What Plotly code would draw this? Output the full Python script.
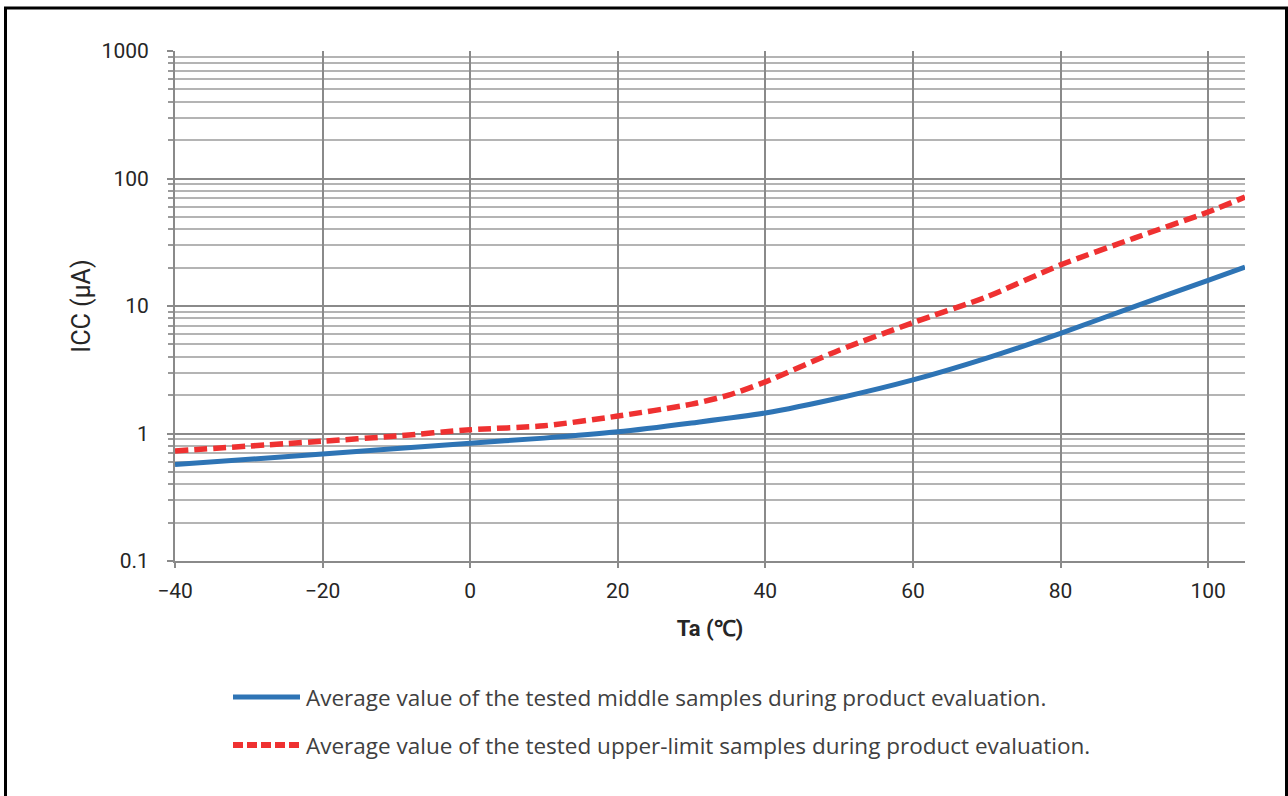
import plotly.graph_objects as go

# Ambient temperature (°C) and supply current ICC (µA)
ta_mid = [-40, -20, 0, 10, 20, 30, 40, 50, 60, 70, 80, 90, 100, 105]
icc_mid = [0.57, 0.69, 0.84, 0.92, 1.03, 1.21, 1.45, 1.90, 2.63, 3.9, 6.1, 9.9, 15.9, 20.2]

ta_up = [-40, -20, -10, 0, 10, 20, 30, 35, 40, 50, 60, 70, 80, 90, 100, 105]
icc_up = [0.73, 0.87, 0.955, 1.07, 1.15, 1.37, 1.70, 2.0, 2.54, 4.5, 7.4, 11.8, 21.0, 34.1, 54.6, 71.6]

legend_labels = [
    "Average value of the tested middle samples during product evaluation.",
    "Average value of the tested upper-limit samples during product evaluation.",
]

x_ticks = [-40, -20, 0, 20, 40, 60, 80, 100]
x_ticktext = ["\u221240", "\u221220", "0", "20", "40", "60", "80", "100"]
y_ticks = [0.1, 1, 10, 100, 1000]
y_ticktext = ["0.1", "1", "10", "100", "1000"]

BLUE = "#2e74b5"
RED = "#ef3131"
TEXT = "#262626"
W, H = 1288, 796
L, R, T, B = 175, 43, 51, 235

minor_vals = [m * 10 ** e for e in range(-1, 3) for m in range(2, 10)]

fig = go.Figure()
fig.add_trace(go.Scatter(x=ta_mid, y=icc_mid, mode="lines",
                         line=dict(color=BLUE, width=5, shape="spline", smoothing=0.7),
                         showlegend=False, name=legend_labels[0]))
fig.add_trace(go.Scatter(x=ta_up, y=icc_up, mode="lines",
                         line=dict(color=RED, width=5.5, dash="13px,6px", shape="spline", smoothing=0.7),
                         showlegend=False, name=legend_labels[1]))


def px(xp):
    return (xp - L) / (W - L - R)


def py(yp):
    return (H - B - yp) / (H - T - B)


shapes = [
    # outer frame
    dict(type="rect", xref="paper", yref="paper", x0=px(5.5), x1=px(1286.5), y0=py(820), y1=py(8),
         line=dict(color="black", width=3), layer="above"),
    # legend samples
    dict(type="line", xref="paper", yref="paper", x0=px(233), x1=px(300), y0=py(697), y1=py(697),
         line=dict(color=BLUE, width=5)),
    dict(type="line", xref="paper", yref="paper", x0=px(233), x1=px(300), y0=py(745), y1=py(745),
         line=dict(color=RED, width=6, dash="10px,4px")),
]

legend_font = dict(family="Open Sans", size=22.5, color="#404040")
annotations = [
    dict(xref="paper", yref="paper", x=px(304), y=py(697), text=legend_labels[0], showarrow=False,
         xanchor="left", yanchor="middle", font=legend_font),
    dict(xref="paper", yref="paper", x=px(304), y=py(745), text=legend_labels[1], showarrow=False,
         xanchor="left", yanchor="middle", font=legend_font),
]

fig.update_layout(
    width=W, height=H,
    margin=dict(l=L, r=R, t=T, b=B),
    paper_bgcolor="white", plot_bgcolor="white",
    shapes=shapes, annotations=annotations,
    font=dict(family="Roboto", color=TEXT),
    xaxis=dict(
        range=[-40, 105], tickvals=x_ticks, ticktext=x_ticktext,
        showgrid=True, gridcolor="#8a8a8a", gridwidth=2,
        showline=True, linecolor="#8a8a8a", linewidth=2,
        ticks="outside", ticklen=5, tickcolor="#8a8a8a", tickwidth=2,
        tickfont=dict(size=21, color=TEXT), ticklabelstandoff=5, zeroline=False,
        title=dict(text="<b>Ta (\u2103)</b>", font=dict(size=22, color=TEXT), standoff=18),
    ),
    yaxis=dict(
        type="log", range=[-1, 3], tickvals=y_ticks, ticktext=y_ticktext,
        showgrid=True, gridcolor="#8a8a8a", gridwidth=2,
        showline=True, linecolor="#8a8a8a", linewidth=2,
        ticks="outside", ticklen=6, tickcolor="#8a8a8a", tickwidth=2,
        tickfont=dict(size=21, color=TEXT), ticklabelstandoff=14,
        minor=dict(tickvals=minor_vals, showgrid=True, gridcolor="#b4b4b4", gridwidth=2,
                   ticks="outside", ticklen=5, tickcolor="#9a9a9a", tickwidth=2),
        title=dict(text="ICC (\u03bcA)", font=dict(size=25, color=TEXT), standoff=4),
    ),
)

fig.write_html("out.html")
